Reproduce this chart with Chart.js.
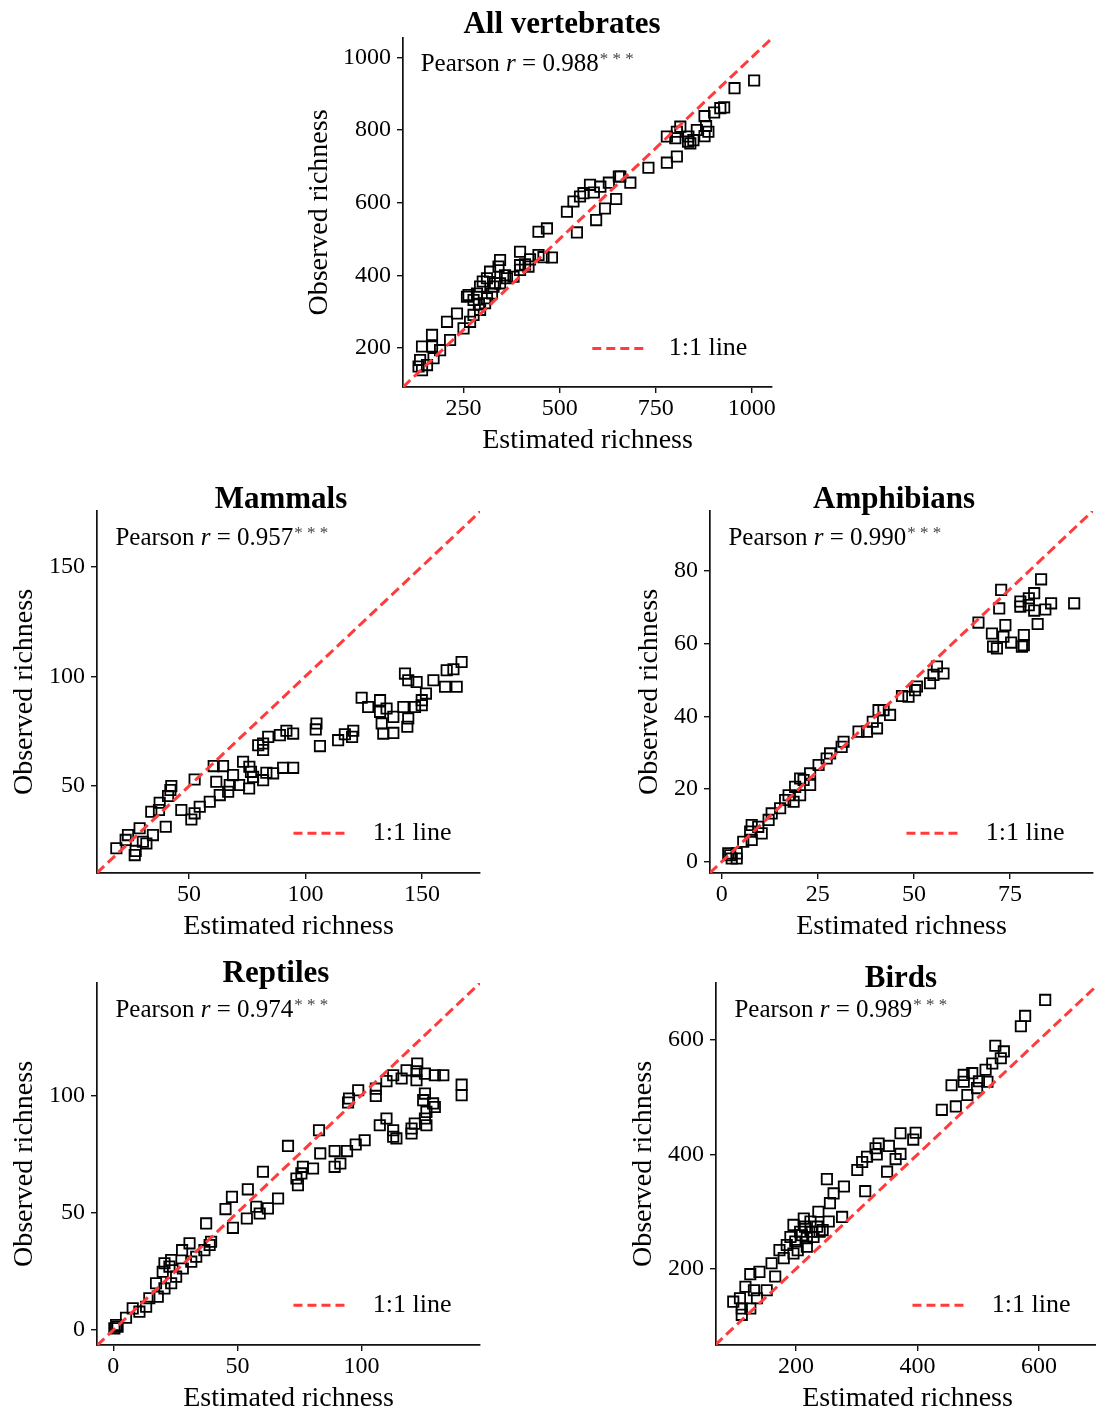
<!DOCTYPE html>
<html>
<head>
<meta charset="utf-8">
<script src="https://cdn.jsdelivr.net/npm/chart.js@4.4.0/dist/chart.umd.min.js"></script>
<style>
  html, body { margin: 0; padding: 0; background: #fff; overflow: hidden; width: 1096px; height: 1414px; }
  canvas { position: absolute; }
</style>
</head>
<body>
<canvas id="c0"></canvas>
<canvas id="c1"></canvas>
<canvas id="c2"></canvas>
<canvas id="c3"></canvas>
<canvas id="c4"></canvas>
<script>
const panelTitles = ['All vertebrates', 'Mammals', 'Amphibians', 'Reptiles', 'Birds'];
const pearsonR = ['0.988', '0.957', '0.990', '0.974', '0.989'];

// All vertebrates
const vertEst = [1006,955,928,918,902,877,881,887,877,857,848,840,814,805,801,779,779,805,731,684,658,654,628,606,589,579,562,553,536,519,647,618,595,545,467,445,480,458,445,397,423,419,397,397,380,363,345,345,341,319,311,300,293,328,324,311,306,293,259,263,276,267,233,207,250,215,189,168,168,142,172,155,137,133,142,285,276,332,290,358,410,834,835];
const vertObs = [936,915,862,860,848,838,811,795,783,800,772,763,809,795,777,782,710,727,696,655,672,672,655,644,628,649,626,617,603,575,610,584,552,518,529,520,449,450,456,465,444,424,428,415,396,392,378,442,424,410,392,383,369,369,350,337,323,305,341,346,291,272,295,272,254,222,194,236,204,204,172,153,167,149,139,350,332,378,320,400,430,768,782];

// Mammals
const mamEst = [167,163.5,160.6,164.9,159.9,154.9,151.7,149.9,149.9,147,142.7,144.1,147.7,142,144.1,143.7,137.7,137.7,133.4,132.7,132,134.8,132,126.9,124.1,120,120.5,116.9,114,106.2,104.7,104.4,94.7,91.8,89,84,81.8,79.7,81.8,94.7,90.4,86.1,83.2,81.8,77.5,73.2,75.9,76.6,75.8,71.5,68.9,67.5,66.8,64.6,60.6,61.7,63.2,58.9,54.6,52.4,51,46.7,52.4,42.4,42,41,40,37.4,37.1,33.8,34.5,30.2,28.8,27.1,26.7,23.8,22.8,18.8,31.7];
const mamObs = [106.5,103.2,102.7,95.2,95.2,98.2,92.1,89.1,86.8,86,101.2,98.2,97.4,86,80.8,77,81.5,74.2,73.9,78.5,83.8,85.3,89.1,86,90.2,72.4,75.2,73.6,70.9,68.2,78.5,75.8,73.9,75.2,73.2,72.4,69.4,68.6,66.4,58.3,58.3,55.8,56.1,52.7,54.2,61.1,58.8,56.5,48.9,50.5,55,50.5,47.4,59.1,59.1,52,45.9,42.9,40.6,37.6,34.8,39.1,53,50,48.2,45.5,31.5,42.4,39.1,38.3,27.7,24.7,30.8,20.5,18.6,27.7,25.5,21.7,23.9];

// Amphibians
const ampEst = [91.7,85.7,84.2,83.1,81.3,81.3,82.2,79.9,79.9,77.7,77.7,78.6,78.6,78.1,75.3,73.8,73.3,72.7,72.2,70.3,70.6,71.6,66.8,57.7,56,55.1,54.2,50.8,50.3,48.6,46.9,43.8,42.1,40.8,40.4,39.3,37.8,35.6,31.7,31.2,28.2,27.3,25.2,23,23,21.3,20.4,19.1,20.4,18.7,17.4,16.5,15.2,13,12.2,10.4,9.5,7.8,7.4,7.8,5.6,3.9,2.2,2.6,1.7,3.9];
const ampObs = [71.1,71.1,69.4,77.7,73.9,69.1,65.4,72.5,70.6,71.6,70.2,62.4,59.6,59.2,60.3,65.1,61.9,74.8,69.7,62.8,59.2,58.7,65.8,51.8,53.7,51.4,49.1,48.2,47.2,45.4,45.6,40.4,41.7,41.7,36.7,38.5,35.8,35.8,33,31.6,29.8,28.4,26.6,24.3,21.1,22.5,22.9,20.6,18.3,16.5,18.3,17,14.7,13.3,11.5,7.8,9.6,10.1,8.3,6,5.5,2.3,1.8,0.9,2.3,0.9];

// Reptiles
const repEst = [140.4,140.4,133,129.6,125.6,122.5,122.2,122.2,118.2,116.2,112.8,110.1,105.8,105.8,98.7,95,94.6,125.6,124.9,128.9,129.6,126.2,125.6,126.2,121.5,120.2,120.2,112.8,112.8,114.1,110.1,107.4,101.3,97.7,94.2,89.2,91.5,89.2,83.4,82.9,80.5,76.4,75.8,73.8,74.4,70.4,66.4,62.3,60.3,59,57.6,54.2,53.8,48.2,47.8,45.2,39.4,38.8,37.4,36.7,33.4,31.4,30.7,27.7,28,25.3,23.3,22.6,20.6,19.9,23.3,20.6,17.2,17.9,14.5,13.2,10.5,7.8,5.1,1.7,0.4,1.1];
const repObs = [104.5,100,108.5,108.5,109.2,113.5,110.2,106.4,110.6,107.1,108.5,106,102.8,99.7,102.1,98.6,96.9,100.7,97.9,96.5,95,92.9,90.1,87.2,87.9,85.8,83.7,85.1,82.3,81.6,90.1,87.2,80.8,79,76.2,76.2,70.9,69.5,75.2,85.1,68.8,69.5,66.7,64.5,61.7,78.4,56,51.8,67.4,49.6,52.5,59.9,47.5,43.5,56.7,51.5,37.6,36.2,45.4,34,31.2,29.1,36.9,34,26.2,22.7,29.8,27,28.4,24.8,19.9,17.7,19.9,14.2,13.5,9.9,7.8,9.2,5.2,1.4,0.7,2.1];

// Birds
const birdEst = [610,577,570,542,528,537,523,512,515,498,501,490,476,476,482,456,463,440,397,393,372,372,364,353,350,336,331,333,317,309,301,314,279,262,251,256,276,254,237,239,224,215,210,196,191,185,196,218,199,180,173,160,166,152,140,125,131,117,108,97,111,111,125,136,207,226,218,235,244,213,229,203];
const birdObs = [670,642,624,580,590,568,559,548,527,516,528,542,539,527,504,521,484,478,438,426,437,401,392,415,370,419,411,400,396,387,373,336,344,332,357,315,291,283,300,265,283,274,259,277,256,242,227,239,248,219,233,210,187,163,195,191,163,169,149,143,131,120,131,149,265,265,254,274,268,288,256,233];

// axis limits and tick labels
const vertXRange = [92.5, 1052.5], vertYRange = [92.7, 1053];
const mamXRange = [10.5, 174.9], mamYRange = [10.45, 175.2];
const ampXRange = [-3.05, 96.6], ampYRange = [-3.1, 96.5];
const repXRange = [-6.6, 147.8], repYRange = [-6.4, 147.8];
const birdXRange = [68.6, 698.5], birdYRange = [67.3, 699.5];

const vertXTicks = [250, 500, 750, 1000], vertYTicks = [200, 400, 600, 800, 1000];
const mamXTicks = [50, 100, 150], mamYTicks = [50, 100, 150];
const ampXTicks = [0, 25, 50, 75], ampYTicks = [0, 20, 40, 60, 80];
const repXTicks = [0, 50, 100], repYTicks = [0, 50, 100];
const birdXTicks = [200, 400, 600], birdYTicks = [200, 400, 600];

// page layout: plot box [left, top, right, bottom], title centre / baseline offset, y-title padding
const panels = [
  {est: vertEst, obs: vertObs, xr: vertXRange, yr: vertYRange, xt: vertXTicks, yt: vertYTicks, box: [403, 38, 772, 387], titleX: 562, titleDy: -5, yPad: 0},
  {est: mamEst, obs: mamObs, xr: mamXRange, yr: mamYRange, xt: mamXTicks, yt: mamYTicks, box: [97, 511, 480, 873], titleX: 281, titleDy: -3, yPad: 11},
  {est: ampEst, obs: ampObs, xr: ampXRange, yr: ampYRange, xt: ampXTicks, yt: ampYTicks, box: [710, 511, 1093, 873], titleX: 894, titleDy: -3, yPad: 23},
  {est: repEst, obs: repObs, xr: repXRange, yr: repYRange, xt: repXTicks, yt: repYTicks, box: [97, 983, 480, 1345], titleX: 276, titleDy: -1, yPad: 11},
  {est: birdEst, obs: birdObs, xr: birdXRange, yr: birdYRange, xt: birdXTicks, yt: birdYTicks, box: [716, 983, 1099, 1345], titleX: 901, titleDy: 4, yPad: 11}
];

const FONT = '"Liberation Serif", "Times New Roman", serif';
const RED = '#ff3b3b';
const Y_W = 100, X_H = 80, TOP_PAD = 50, RIGHT_PAD = 40;

const decor = {
  id: 'decor',
  afterDraw(chart, args, opts) {
    const ctx = chart.ctx, a = chart.chartArea;
    const W = a.right - a.left, H = a.bottom - a.top;
    const cv = chart.canvas;
    const offX = parseFloat(cv.style.left);
    ctx.save();
    ctx.fillStyle = '#000';
    // panel title
    ctx.font = 'bold 31px ' + FONT;
    ctx.textAlign = 'center';
    ctx.textBaseline = 'alphabetic';
    ctx.fillText(opts.title, opts.titleX - offX, a.top + opts.titleDy);
    // Pearson r
    ctx.textAlign = 'left';
    let x = a.left + 0.048 * W;
    const yb = a.top + 0.073 * H + 8;
    ctx.font = '25px ' + FONT;
    ctx.fillText('Pearson ', x, yb); x += ctx.measureText('Pearson ').width;
    ctx.font = 'italic 25px ' + FONT;
    ctx.fillText('r', x, yb); x += ctx.measureText('r').width;
    ctx.font = '25px ' + FONT;
    const rest = ' = ' + opts.r;
    ctx.fillText(rest, x, yb); x += ctx.measureText(rest).width;
    ctx.fillStyle = '#444';
    ctx.font = '17px ' + FONT;
    ctx.fillText('* * *', x + 1, yb - 7);
    ctx.fillStyle = '#000';
    // legend
    const ly = a.bottom - 0.11 * H;
    ctx.strokeStyle = RED;
    ctx.lineWidth = 3;
    ctx.setLineDash([9, 5]);
    ctx.beginPath();
    ctx.moveTo(a.right - 0.487 * W, ly);
    ctx.lineTo(a.right - 0.344 * W, ly);
    ctx.stroke();
    ctx.setLineDash([]);
    ctx.font = '26px ' + FONT;
    ctx.textBaseline = 'middle';
    ctx.fillText('1:1 line', a.right - 0.28 * W, ly);
    ctx.restore();
  }
};

panels.forEach((p, i) => {
  const cv = document.getElementById('c' + i);
  const [l, t, r, b] = p.box;
  const left = l - Y_W, top = t - TOP_PAD;
  const w = r - l + Y_W + RIGHT_PAD, h = b - t + TOP_PAD + X_H;
  cv.width = w; cv.height = h;
  cv.style.left = left + 'px'; cv.style.top = top + 'px';
  cv.style.width = w + 'px'; cv.style.height = h + 'px';

  const lo = Math.min(p.xr[0], p.yr[0]), hi = Math.max(p.xr[1], p.yr[1]);
  const pts = p.est.map((v, k) => ({x: v, y: p.obs[k]}));

  const axisCommon = {
    type: 'linear',
    border: {display: true, color: '#111', width: 1.7},
    grid: {display: true, drawOnChartArea: false, drawTicks: true, tickLength: 6, color: '#111', lineWidth: 1.4},
  };

  new Chart(cv.getContext('2d'), {
    type: 'scatter',
    data: {
      datasets: [
        {
          type: 'line',
          data: [{x: lo, y: lo}, {x: hi, y: hi}],
          borderColor: RED,
          borderWidth: 3,
          borderDash: [10, 5],
          pointRadius: 0,
          fill: false
        },
        {
          data: pts,
          pointStyle: 'rect',
          pointRadius: 7.3,
          borderColor: '#000',
          borderWidth: 1.8,
          backgroundColor: 'rgba(0,0,0,0)'
        }
      ]
    },
    options: {
      responsive: false,
      animation: false,
      events: [],
      layout: {padding: {left: 0, top: TOP_PAD, right: RIGHT_PAD, bottom: 0}},
      plugins: {
        legend: {display: false},
        tooltip: {enabled: false},
        decor: {title: panelTitles[i], r: pearsonR[i], titleX: p.titleX, titleDy: p.titleDy}
      },
      scales: {
        x: Object.assign({}, axisCommon, {
          min: p.xr[0], max: p.xr[1],
          ticks: {color: '#000', font: {family: FONT, size: 24}, padding: 1, maxRotation: 0, autoSkip: false, callback: v => String(v)},
          title: {display: true, text: 'Estimated richness', color: '#000', font: {family: FONT, size: 28}, padding: {top: 0, bottom: 10}},
          afterBuildTicks: s => { s.ticks = p.xt.map(v => ({value: v})); },
          afterFit: s => { s.height = X_H; }
        }),
        y: Object.assign({}, axisCommon, {
          min: p.yr[0], max: p.yr[1],
          ticks: {color: '#000', font: {family: FONT, size: 24}, padding: 6, autoSkip: false, callback: v => String(v)},
          title: {display: true, text: 'Observed richness', color: '#000', font: {family: FONT, size: 28}, padding: {top: p.yPad, bottom: 0}},
          afterBuildTicks: s => { s.ticks = p.yt.map(v => ({value: v})); },
          afterFit: s => { s.width = Y_W; }
        })
      }
    },
    plugins: [decor]
  });
});
</script>
</body>
</html>
